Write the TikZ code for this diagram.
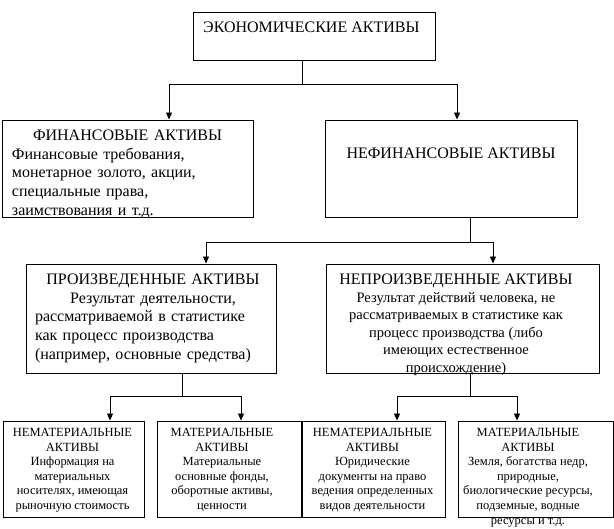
\documentclass[tikz,border=0pt]{standalone}
\usepackage{fontspec}
\setmainfont{Liberation Serif}
\usetikzlibrary{arrows.meta}
\setlength{\parindent}{0pt}
\setlength{\parskip}{0pt}
\tikzset{
  box/.style={draw, line width=0.9pt, inner sep=0pt},
  conn/.style={line width=0.9pt, -{Triangle[width=6pt,length=7pt]}},
  big/.style={font=\fontsize{16}{18.7}\selectfont, inner sep=0pt},
  mid/.style={font=\fontsize{14.5}{17.6}\selectfont, inner sep=0pt, align=center},
  small/.style={font=\fontsize{12.5}{14.6}\selectfont, inner sep=0pt, align=center},
}
\begin{document}
\begin{tikzpicture}[x=1pt,y=-1pt]
\useasboundingbox[fill=white] (0,0) rectangle (614,529);
% boxes
\node[box, minimum width=242pt, minimum height=48pt] (top) at (314,36) {};
\node[box, minimum width=251pt, minimum height=97pt] (fin) at (127.5,168.5) {};
\node[box, minimum width=252pt, minimum height=97pt] (nefin) at (451,168.5) {};
\node[box, minimum width=250pt, minimum height=109pt] (pro) at (151,318.5) {};
\node[box, minimum width=273pt, minimum height=109pt] (nepro) at (462.5,318.5) {};
\node[box, minimum width=141pt, minimum height=96pt] (b1) at (73.5,469) {};
\node[box, minimum width=144pt, minimum height=96pt] (b2) at (229,469) {};
\node[box, minimum width=143pt, minimum height=96pt] (b3) at (373.5,469) {};
\node[box, minimum width=155pt, minimum height=96pt] (b4) at (535.5,469) {};
% texts
\node[big, anchor=west] (ttop) at (203,27) {ЭКОНОМИЧЕСКИЕ АКТИВЫ};
\node[big, anchor=north, text width=231pt] (tfin) at (127.5,129.7)
  {{\centering ФИНАНСОВЫЕ АКТИВЫ\par}Финансовые требования,\par монетарное золото, акции,\par специальные права,\par заимствования и т.д.};
\node[big] (tnefin) at (451,153) {НЕФИНАНСОВЫЕ АКТИВЫ};
\node[big, anchor=north, text width=236pt] (tpro) at (153,273.7)
  {{\centering ПРОИЗВЕДЕННЫЕ АКТИВЫ\par Результат деятельности,\par}рассматриваемой в статистике\par как процесс производства\par (например, основные средства)};
\node[mid, anchor=north] (tnepro) at (456,273.7)
  {{\fontsize{16}{17.6}\selectfont НЕПРОИЗВЕДЕННЫЕ АКТИВЫ}\\Результат действий человека, не\\рассматриваемых в статистике как\\процесс производства (либо\\имеющих естественное\\происхождение)};
\node[small, anchor=north] (t1) at (72.5,428)
  {НЕМАТЕРИАЛЬНЫЕ\\АКТИВЫ\\Информация на\\материальных\\носителях, имеющая\\рыночную стоимость};
\node[small, anchor=north] (t2) at (222,428)
  {МАТЕРИАЛЬНЫЕ\\АКТИВЫ\\Материальные\\основные фонды,\\оборотные активы,\\ценности};
\node[small, anchor=north] (t3) at (372.5,428)
  {НЕМАТЕРИАЛЬНЫЕ\\АКТИВЫ\\Юридические\\документы на право\\ведения определенных\\видов деятельности};
\node[small, anchor=north] (t4) at (528,428)
  {МАТЕРИАЛЬНЫЕ\\АКТИВЫ\\Земля, богатства недр,\\природные,\\биологические ресурсы,\\подземные, водные\\ресурсы и т.д.};
% connectors
\draw[conn] ([xshift=-12pt]top.south) -- ++(0,24) -| ([xshift=41.5pt]fin.north);
\draw[conn] ([xshift=-12pt]top.south) -- ++(0,24) -| ([xshift=6pt]nefin.north);
\draw[conn] ([xshift=19pt]nefin.south) -- ++(0,25) -| ([xshift=55pt]pro.north);
\draw[conn] ([xshift=19pt]nefin.south) -- ++(0,25) -| ([xshift=30.5pt]nepro.north);
\draw[conn] ([xshift=31pt]pro.south) -- ++(0,23) -| ([xshift=36.5pt]b1.north);
\draw[conn] ([xshift=31pt]pro.south) -- ++(0,23) -| ([xshift=12pt]b2.north);
\draw[conn] ([xshift=7.5pt]nepro.south) -- ++(0,23) -| ([xshift=23.5pt]b3.north);
\draw[conn] ([xshift=7.5pt]nepro.south) -- ++(0,23) -| ([xshift=-18.5pt]b4.north);
\end{tikzpicture}
\end{document}
